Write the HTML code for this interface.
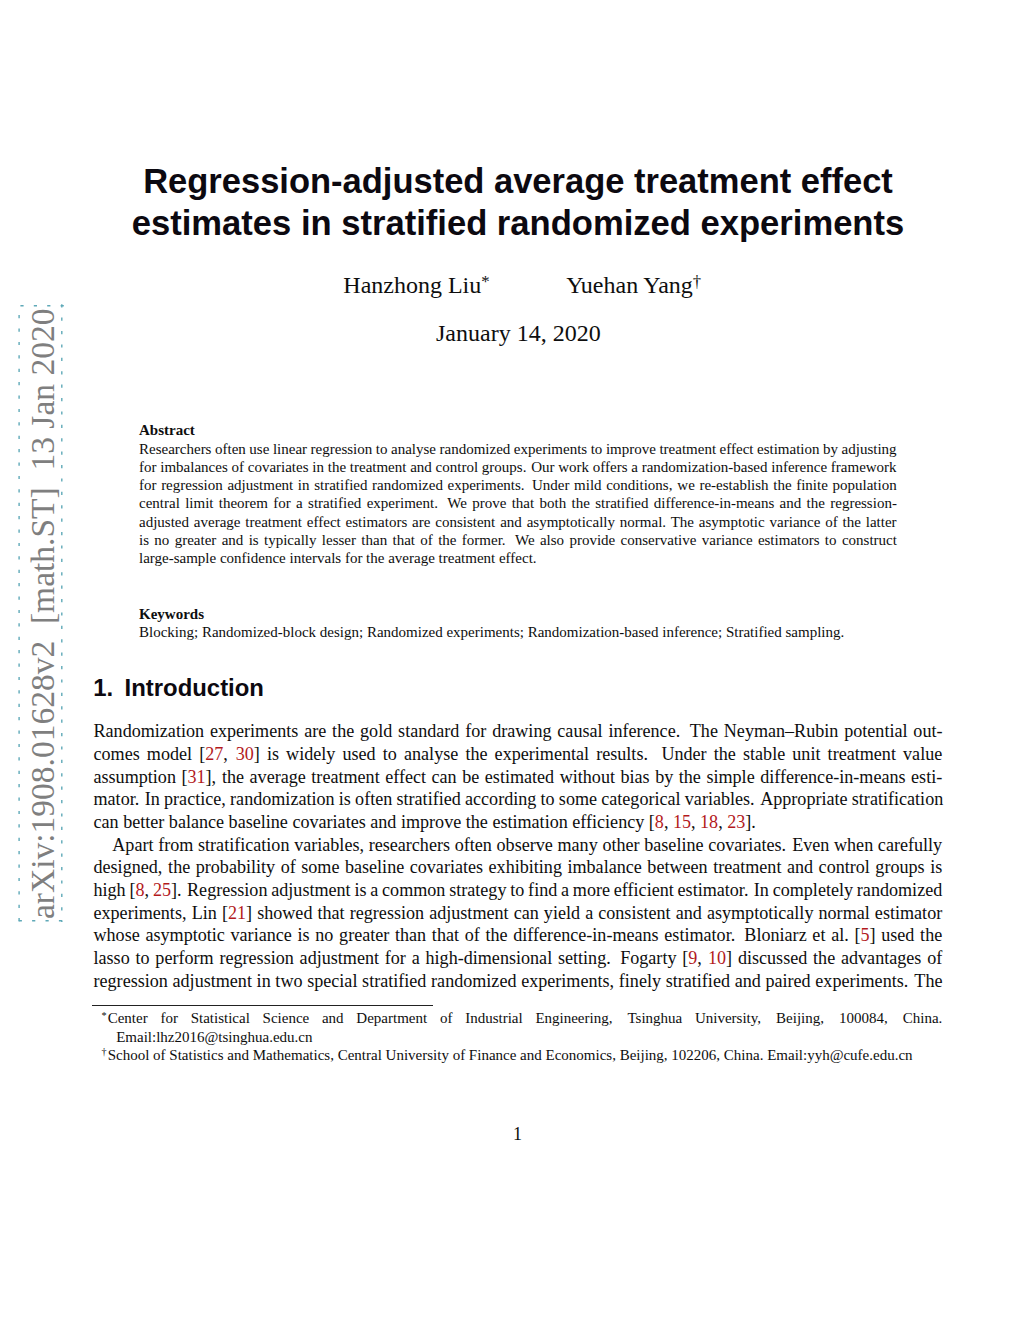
<!DOCTYPE html>
<html><head><meta charset="utf-8"><title>paper</title><style>
*{margin:0;padding:0}
html,body{width:1024px;height:1325px;background:#fff;overflow:hidden}
body{position:relative}
.l{position:absolute;white-space:nowrap;line-height:normal}
.c{text-align:center}
.r{color:#b3191c}
sup{font-size:70%;vertical-align:0;position:relative;top:-0.45em}
sup.fm{font-size:68%;margin-left:-1.2px;margin-right:1.2px}
sup.au{top:-0.36em}
b{font-weight:700}
</style></head>
<body>

<svg style="position:absolute;left:0;top:0" width="80" height="1000"><g fill="none" stroke="#5fa9b8" stroke-width="1.4" stroke-dasharray="3.2 10.2">
<line x1="18" y1="305.8" x2="64" y2="305.8" stroke-dashoffset="11.0"/>
<line x1="19.1" y1="305.5" x2="19.1" y2="922" stroke-dashoffset="3.8"/>
<line x1="61.8" y1="304" x2="61.8" y2="922" stroke-dashoffset="13.2"/>
<line x1="18" y1="920.7" x2="64" y2="920.7" stroke-dashoffset="12.7"/>
</g></svg>
<div style="position:absolute;left:54.0px;top:888.60px;transform-origin:0 30px;transform:rotate(-90deg);white-space:nowrap;font-family:'Liberation Serif',serif;font-size:33.5px;color:#7f7f7f;line-height:normal">arXiv:1908.01628v2&nbsp;&nbsp;[math.ST]&nbsp;&nbsp;13 Jan 2020</div>

<div style="position:absolute;left:92.4px;top:1005.0px;width:341px;height:1.1px;background:#222"></div>
<div class="l c" style="left:0.00px;top:161.60px;font-family:'Liberation Sans',sans-serif;font-size:34.5px;color:#0c0910;font-weight:700;width:1036.00px;">Regression-adjusted average treatment effect</div>
<div class="l c" style="left:0.00px;top:204.00px;font-family:'Liberation Sans',sans-serif;font-size:34.6px;color:#0c0910;font-weight:700;width:1036.00px;">estimates in stratified randomized experiments</div>
<div class="l" style="left:343.30px;top:272.00px;font-family:'Liberation Serif',serif;font-size:24.0px;color:#0e0e0e;">Hanzhong Liu<sup class="au">*</sup></div>
<div class="l" style="left:566.20px;top:272.00px;font-family:'Liberation Serif',serif;font-size:24.0px;color:#0e0e0e;">Yuehan Yang<sup class="au">&dagger;</sup></div>
<div class="l" style="left:436.00px;top:320.00px;font-family:'Liberation Serif',serif;font-size:24.0px;color:#0e0e0e;">January 14, 2020</div>
<div class="l" style="left:139.00px;top:422.30px;font-family:'Liberation Serif',serif;font-size:15.0px;color:#0e0e0e;"><b>Abstract</b></div>
<div class="l" style="left:139.00px;top:440.60px;font-family:'Liberation Serif',serif;font-size:15.0px;color:#0e0e0e;word-spacing:-0.208px;">Researchers often use linear regression to analyse randomized experiments to improve treatment effect estimation by adjusting</div>
<div class="l" style="left:139.00px;top:458.88px;font-family:'Liberation Serif',serif;font-size:15.0px;color:#0e0e0e;word-spacing:0.010px;">for imbalances of covariates in the treatment and control groups.<span style="word-spacing:0.93px"> </span>Our work offers a randomization-based inference framework</div>
<div class="l" style="left:139.00px;top:477.16px;font-family:'Liberation Serif',serif;font-size:15.0px;color:#0e0e0e;word-spacing:0.885px;">for regression adjustment in stratified randomized experiments.<span style="word-spacing:3.56px"> </span>Under mild conditions,<span style="word-spacing:1.11px"> </span>we re-establish the finite population</div>
<div class="l" style="left:139.00px;top:495.44px;font-family:'Liberation Serif',serif;font-size:15.0px;color:#0e0e0e;word-spacing:1.573px;">central limit theorem for a stratified experiment.<span style="word-spacing:5.62px"> </span>We prove that both the stratified difference-in-means and the regression-</div>
<div class="l" style="left:139.00px;top:513.72px;font-family:'Liberation Serif',serif;font-size:15.0px;color:#0e0e0e;word-spacing:1.117px;">adjusted average treatment effect estimators are consistent and asymptotically normal. The asymptotic variance of the latter</div>
<div class="l" style="left:139.00px;top:532.00px;font-family:'Liberation Serif',serif;font-size:15.0px;color:#0e0e0e;word-spacing:1.591px;">is no greater and is typically lesser than that of the former.<span style="word-spacing:5.67px"> </span>We also provide conservative variance estimators to construct</div>
<div class="l" style="left:139.00px;top:550.28px;font-family:'Liberation Serif',serif;font-size:15.0px;color:#0e0e0e;">large-sample confidence intervals for the average treatment effect.</div>
<div class="l" style="left:139.00px;top:605.70px;font-family:'Liberation Serif',serif;font-size:15.0px;color:#0e0e0e;"><b>Keywords</b></div>
<div class="l" style="left:139.00px;top:623.60px;font-family:'Liberation Serif',serif;font-size:15.0px;color:#0e0e0e;">Blocking; Randomized-block design; Randomized experiments; Randomization-based inference; Stratified sampling.</div>
<div class="l" style="left:93.20px;top:673.60px;font-family:'Liberation Sans',sans-serif;font-size:23.9px;color:#0c0910;font-weight:700;">1.</div>
<div class="l" style="left:124.60px;top:673.60px;font-family:'Liberation Sans',sans-serif;font-size:23.9px;color:#0c0910;font-weight:700;">Introduction</div>
<div class="l" style="left:93.50px;top:721.10px;font-family:'Liberation Serif',serif;font-size:18.1px;color:#0e0e0e;word-spacing:1.327px;">Randomization experiments are the gold standard for drawing causal inference.<span style="word-spacing:5.07px"> </span>The Neyman–Rubin potential out-</div>
<div class="l" style="left:93.50px;top:743.80px;font-family:'Liberation Serif',serif;font-size:18.1px;color:#0e0e0e;word-spacing:2.607px;">comes model [<span class="r">27</span>,<span style="word-spacing:3.26px"> </span><span class="r">30</span>] is widely used to analyse the experimental results.<span style="word-spacing:8.91px"> </span>Under the stable unit treatment value</div>
<div class="l" style="left:93.50px;top:766.50px;font-family:'Liberation Serif',serif;font-size:18.1px;color:#0e0e0e;word-spacing:1.005px;">assumption [<span class="r">31</span>],<span style="word-spacing:1.26px"> </span>the average treatment effect can be estimated without bias by the simple difference-in-means esti-</div>
<div class="l" style="left:93.50px;top:789.20px;font-family:'Liberation Serif',serif;font-size:18.1px;color:#0e0e0e;word-spacing:-0.311px;">mator.<span style="word-spacing:0.98px"> </span>In practice,<span style="word-spacing:-0.25px"> </span>randomization is often stratified according to some categorical variables.<span style="word-spacing:0.98px"> </span>Appropriate stratification</div>
<div class="l" style="left:93.50px;top:811.90px;font-family:'Liberation Serif',serif;font-size:18.1px;color:#0e0e0e;">can better balance baseline covariates and improve the estimation efficiency [<span class="r">8</span>, <span class="r">15</span>, <span class="r">18</span>, <span class="r">23</span>].</div>
<div class="l" style="left:112.30px;top:834.60px;font-family:'Liberation Serif',serif;font-size:18.1px;color:#0e0e0e;word-spacing:0.156px;">Apart from stratification variables, researchers often observe many other baseline covariates.<span style="word-spacing:1.55px"> </span>Even when carefully</div>
<div class="l" style="left:93.50px;top:857.30px;font-family:'Liberation Serif',serif;font-size:18.1px;color:#0e0e0e;word-spacing:0.991px;">designed,<span style="word-spacing:1.24px"> </span>the probability of some baseline covariates exhibiting imbalance between treatment and control groups is</div>
<div class="l" style="left:93.50px;top:880.00px;font-family:'Liberation Serif',serif;font-size:18.1px;color:#0e0e0e;word-spacing:-0.736px;">high [<span class="r">8</span>,<span style="word-spacing:-0.59px"> </span><span class="r">25</span>].<span style="word-spacing:0.84px"> </span>Regression adjustment is a common strategy to find a more efficient estimator.<span style="word-spacing:0.84px"> </span>In completely randomized</div>
<div class="l" style="left:93.50px;top:902.70px;font-family:'Liberation Serif',serif;font-size:18.1px;color:#0e0e0e;word-spacing:0.564px;">experiments,<span style="word-spacing:0.71px"> </span>Lin [<span class="r">21</span>] showed that regression adjustment can yield a consistent and asymptotically normal estimator</div>
<div class="l" style="left:93.50px;top:925.40px;font-family:'Liberation Serif',serif;font-size:18.1px;color:#0e0e0e;word-spacing:1.182px;">whose asymptotic variance is no greater than that of the difference-in-means estimator.<span style="word-spacing:4.63px"> </span>Bloniarz et al. [<span class="r">5</span>] used the</div>
<div class="l" style="left:93.50px;top:948.10px;font-family:'Liberation Serif',serif;font-size:18.1px;color:#0e0e0e;word-spacing:1.276px;">lasso to perform regression adjustment for a high-dimensional setting.<span style="word-spacing:4.91px"> </span>Fogarty [<span class="r">9</span>,<span style="word-spacing:1.59px"> </span><span class="r">10</span>] discussed the advantages of</div>
<div class="l" style="left:93.50px;top:970.80px;font-family:'Liberation Serif',serif;font-size:18.1px;color:#0e0e0e;word-spacing:0.152px;">regression adjustment in two special stratified randomized experiments, finely stratified and paired experiments.<span style="word-spacing:1.54px"> </span>The</div>
<div class="l" style="left:102.60px;top:1010.20px;font-family:'Liberation Serif',serif;font-size:15.0px;color:#0e0e0e;word-spacing:8.997px;"><sup class="fm">*</sup>Center for Statistical Science and Department of Industrial Engineering,<span style="word-spacing:11.25px"> </span>Tsinghua University,<span style="word-spacing:11.25px"> </span>Beijing,<span style="word-spacing:11.25px"> </span>100084,<span style="word-spacing:11.25px"> </span>China.</div>
<div class="l" style="left:116.20px;top:1028.50px;font-family:'Liberation Serif',serif;font-size:15.0px;color:#0e0e0e;">Email:lhz2016@tsinghua.edu.cn</div>
<div class="l" style="left:102.60px;top:1046.70px;font-family:'Liberation Serif',serif;font-size:15.0px;color:#0e0e0e;"><sup class="fm">&dagger;</sup>School of Statistics and Mathematics, Central University of Finance and Economics, Beijing, 102206, China. Email:yyh@cufe.edu.cn</div>
<div class="l" style="left:513.00px;top:1124.00px;font-family:'Liberation Serif',serif;font-size:18.1px;color:#0e0e0e;">1</div>
</body></html>
